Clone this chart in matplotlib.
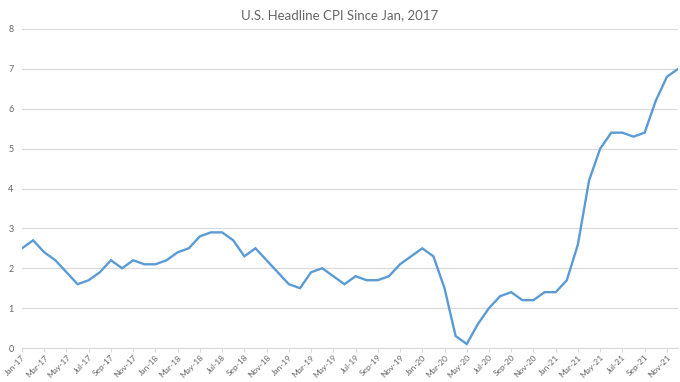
import matplotlib.pyplot as plt

months = ['Jan', 'Feb', 'Mar', 'Apr', 'May', 'Jun',
          'Jul', 'Aug', 'Sep', 'Oct', 'Nov', 'Dec']
years = ['17', '18', '19', '20', '21']
labels = [m + '-' + y for y in years for m in months]

cpi = [2.5, 2.7, 2.4, 2.2, 1.9, 1.6, 1.7, 1.9, 2.2, 2.0, 2.2, 2.1,
       2.1, 2.2, 2.4, 2.5, 2.8, 2.9, 2.9, 2.7, 2.3, 2.5, 2.2, 1.9,
       1.6, 1.5, 1.9, 2.0, 1.8, 1.6, 1.8, 1.7, 1.7, 1.8, 2.1, 2.3,
       2.5, 2.3, 1.5, 0.3, 0.1, 0.6, 1.0, 1.3, 1.4, 1.2, 1.2, 1.4,
       1.4, 1.7, 2.6, 4.2, 5.0, 5.4, 5.4, 5.3, 5.4, 6.2, 6.8, 7.0]

plt.rcParams['font.family'] = ['Lato', 'DejaVu Sans']
grey = '#666666'

fig = plt.figure(figsize=(6.8, 3.82), dpi=100)
ax = fig.add_axes([22 / 680, 34 / 382, 656 / 680, 319 / 382])

x = list(range(len(cpi)))
ax.plot(x, cpi, color='#5B9BD5', linewidth=1.7, solid_joinstyle='miter')

ax.set_xlim(0, len(cpi) - 1)
ax.set_ylim(0, 8)
ax.set_yticks(range(0, 9))
ax.set_xticks(x[::2])
ax.set_xticklabels(labels[::2], rotation=45, ha='right', rotation_mode='anchor')

ax.grid(axis='y', color='#D9D9D9', linewidth=0.8)
ax.set_axisbelow(True)
for s in ['top', 'right', 'left']:
    ax.spines[s].set_visible(False)
ax.spines['bottom'].set_color('#D9D9D9')
ax.tick_params(axis='y', length=0, labelsize=6.5, labelcolor=grey, pad=6)
ax.tick_params(axis='x', length=3, color='#D9D9D9', labelsize=6,
               labelcolor=grey, pad=1)

fig.suptitle('U.S. Headline CPI Since Jan, 2017', y=0.975, fontsize=9.5, color=grey)

fig.savefig('out.png', dpi=100)
